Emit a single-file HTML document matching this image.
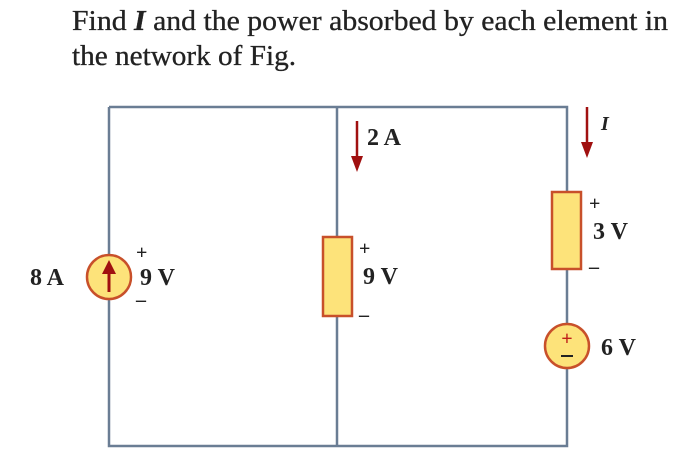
<!DOCTYPE html>
<html><head><meta charset="utf-8"><style>html,body{margin:0;padding:0;background:#fff}svg{display:block}</style></head>
<body>
<svg width="700" height="468" viewBox="0 0 700 468" xmlns="http://www.w3.org/2000/svg" font-family="Liberation Serif, serif" fill="#222">
<text x="72" y="30" font-size="28" textLength="596" lengthAdjust="spacingAndGlyphs" stroke="#222" stroke-width="0.3">Find <tspan font-style="italic" font-weight="bold">I</tspan> and the power absorbed by each element in</text>
<text x="72" y="65" font-size="28" textLength="224" lengthAdjust="spacingAndGlyphs" stroke="#222" stroke-width="0.3">the network of Fig.</text>
<g stroke="#6a7d94" stroke-width="2.5" fill="none">
<polyline points="109,107 567,107 567,446 109,446 109,107"/>
<line x1="337" y1="107" x2="337" y2="446"/>
</g>
<circle cx="109" cy="277" r="22" fill="#fde37a" stroke="#c8502a" stroke-width="2.5"/>
<line x1="109" y1="292" x2="109" y2="270" stroke="#a01010" stroke-width="3"/>
<polygon points="109,260 102,274 116,274" fill="#a01010"/>
<text x="30" y="285" font-size="24" font-weight="bold">8 A</text>
<text x="136" y="259" font-size="20" font-weight="bold">+</text>
<text x="140" y="285" font-size="24" font-weight="bold">9 V</text>
<text x="136" y="306" font-size="20" font-weight="bold">–</text>
<rect x="323" y="237" width="29" height="79" fill="#fde37a" stroke="#c8502a" stroke-width="2.5"/>
<line x1="357" y1="121" x2="357" y2="160" stroke="#a01010" stroke-width="2.5"/>
<polygon points="357,172 351,156 363,156" fill="#a01010"/>
<text x="367" y="145" font-size="24" font-weight="bold">2 A</text>
<text x="359" y="255" font-size="20" font-weight="bold">+</text>
<text x="363" y="284" font-size="24" font-weight="bold">9 V</text>
<text x="359" y="321" font-size="20" font-weight="bold">–</text>
<rect x="552" y="192" width="29" height="77" fill="#fde37a" stroke="#c8502a" stroke-width="2.5"/>
<line x1="587" y1="107" x2="587" y2="146" stroke="#a01010" stroke-width="2.5"/>
<polygon points="587,158 581,142 593,142" fill="#a01010"/>
<text x="601" y="130" font-size="20" font-style="italic" font-weight="bold">I</text>
<text x="589" y="210" font-size="20" font-weight="bold">+</text>
<text x="593" y="239" font-size="24" font-weight="bold">3 V</text>
<text x="589" y="273" font-size="20" font-weight="bold">–</text>
<circle cx="567" cy="346" r="22" fill="#fde37a" stroke="#c8502a" stroke-width="2.5"/>
<text x="567" y="345" font-size="20" font-weight="bold" text-anchor="middle" fill="#c0201a">+</text>
<line x1="561" y1="356" x2="573" y2="356" stroke="#222" stroke-width="2"/>
<text x="601" y="355" font-size="24" font-weight="bold">6 V</text>
</svg>
</body></html>
